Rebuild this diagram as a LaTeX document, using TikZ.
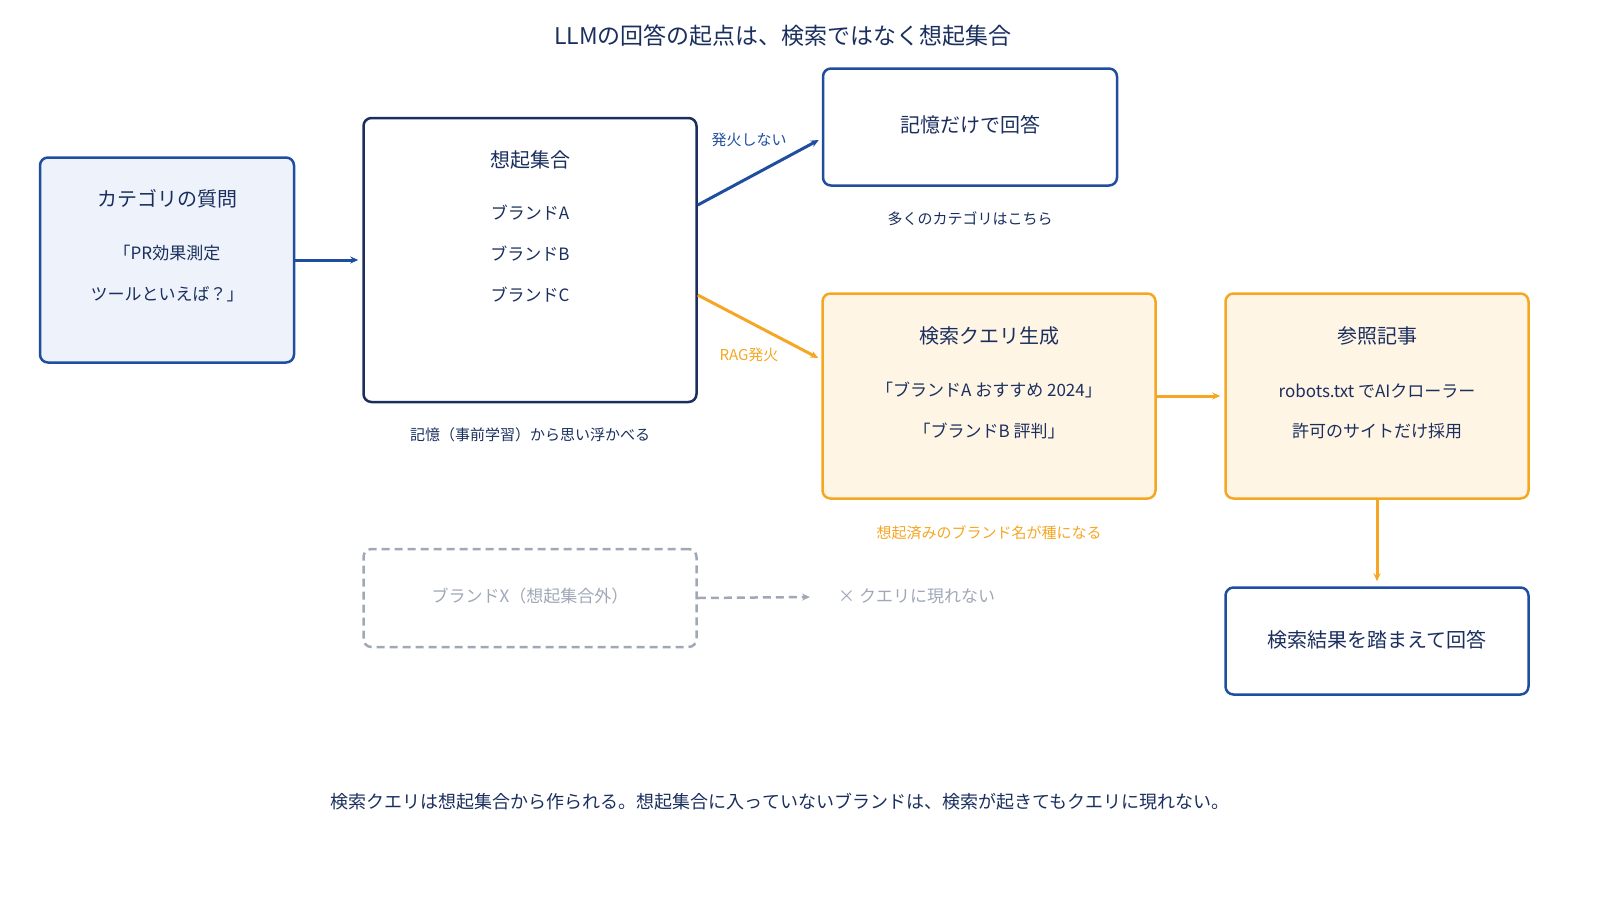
\documentclass[tikz,border=0pt]{standalone}
\usepackage{fontspec}
\setmainfont{Noto Sans CJK JP}
\usetikzlibrary{arrows.meta}
\definecolor{navy}{HTML}{1B2F5E}
\definecolor{blu}{HTML}{1F4EA0}
\definecolor{org}{HTML}{F5A623}
\definecolor{lblue}{HTML}{EDF2FB}
\definecolor{lorg}{HTML}{FFF5E5}
\definecolor{gry}{HTML}{A0A8B8}
\begin{document}
\begin{tikzpicture}[x=1pt,y=-1pt,
 box/.style={draw, rounded corners=8pt, line width=2.5pt, inner sep=0pt},
 bb/.style={box, draw=blu, fill=white},
 ob/.style={box, draw=org, fill=lorg},
 t/.style={text=navy, font=\fontsize{17}{20}\selectfont, inner sep=0pt},
 h/.style={text=navy, font=\fontsize{20}{24}\selectfont, inner sep=0pt},
 c/.style={text=navy, font=\fontsize{15}{18}\selectfont, inner sep=0pt},
 arr/.style={line width=3pt, -{Stealth[length=8pt,width=7pt]}}]
\node[text=navy, font=\fontsize{23}{28}\selectfont] (title) at (783,36) {LLMの回答の起点は、検索ではなく想起集合};
% box1
\node[bb, fill=lblue, minimum width=254pt, minimum height=205pt] (b1) at (167,260) {};
\node[h] (b1h) at (167,199) {カテゴリの質問};
\node[t] (b1a) at (167,253) {「PR効果測定};
\node[t] (b1b) at (167,294) {ツールといえば？」};
% box2
\node[box, draw=navy, fill=white, minimum width=333pt, minimum height=284pt] (b2) at (530,260) {};
\node[h] (b2h) at (530,160) {想起集合};
\node[t] (b2a) at (530,213) {ブランドA};
\node[t] (b2b) at (530,254) {ブランドB};
\node[t] (b2c) at (530,295) {ブランドC};
\node[c] (b2cap) at (530,435) {記憶（事前学習）から思い浮かべる};
% box3
\node[bb, minimum width=294pt, minimum height=117pt] (b3) at (970,127) {};
\node[h] (b3h) at (970,125) {記憶だけで回答};
\node[c] (b3cap) at (970,219) {多くのカテゴリはこちら};
% box4
\node[ob, minimum width=333pt, minimum height=205pt] (b4) at (989,396) {};
\node[h] (b4h) at (989,336) {検索クエリ生成};
\node[t] (b4a) at (989,390) {「ブランドA おすすめ 2024」};
\node[t] (b4b) at (989,431) {「ブランドB 評判」};
\node[c, text=org] (b4cap) at (989,533) {想起済みのブランド名が種になる};
% box5
\node[ob, minimum width=303pt, minimum height=205pt] (b5) at (1377,396) {};
\node[h] (b5h) at (1377,336) {参照記事};
\node[t] (b5a) at (1377,391) {robots.txt でAIクローラー};
\node[t] (b5b) at (1377,431) {許可のサイトだけ採用};
% box6
\node[bb, minimum width=303pt, minimum height=107pt] (b6) at (1377,641) {};
\node[h] (b6h) at (1377,640) {検索結果を踏まえて回答};
% box7
\node[box, draw=gry, dashed, dash pattern=on 8pt off 5pt, fill=white, minimum width=333pt, minimum height=98pt] (b7) at (530,598) {};
\node[t, text=gry] (b7h) at (530,596) {ブランドX（想起集合外）};
\coordinate (xend) at (810,597);
\node[t, text=gry, anchor=west] (xt) at (838,596) {× クエリに現れない};
% arrows
\draw[arr, blu] (b1.east) -- ([xshift=-4pt]b2.west);
\draw[arr, blu] ([yshift=55pt]b2.east) -- ([yshift=-13pt,xshift=-3pt]b3.west);
\node[c, text=blu] (l1) at (749,140) {発火しない};
\draw[arr, org] ([yshift=-35pt]b2.east) -- ([yshift=38pt,xshift=-3pt]b4.west);
\node[c, text=org] (l2) at (749,355) {RAG発火};
\draw[arr, org] (b4.east) -- ([xshift=-4pt]b5.west);
\draw[arr, org] (b5.south) -- ([yshift=5pt]b6.north);
\draw[arr, gry, line width=2.5pt, dashed, dash pattern=on 8pt off 5pt] (b7.east) -- (xend);
\node[text=navy, font=\fontsize{18}{22}\selectfont] (foot) at (780,802) {検索クエリは想起集合から作られる。想起集合に入っていないブランドは、検索が起きてもクエリに現れない。};
\pgfresetboundingbox
\useasboundingbox (0,0) rectangle (1600,900);
\end{tikzpicture}
\end{document}
